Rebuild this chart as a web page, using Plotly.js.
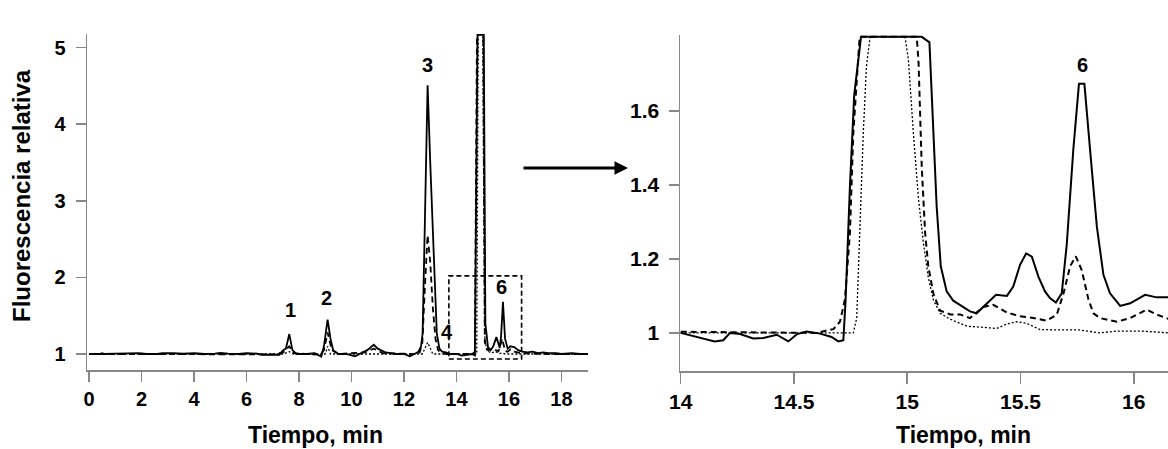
<!DOCTYPE html>
<html>
<head>
<meta charset="utf-8">
<script src="https://cdn.plot.ly/plotly-3.0.1.min.js"></script>
<style>html,body{margin:0;padding:0;background:#fff;}#chart{width:1168px;height:449px;}</style>
</head>
<body>
<div id="chart"></div>
<script>
// ---------- Overview chromatogram (left panel) ----------
var overSolidT = [0,0.4,0.5,0.6,1.0,1.2,1.5,1.9,2.2,2.6,2.8,3.2,3.6,4.0,4.4,4.8,5.0,5.3,5.7,6.0,6.4,6.6,7.0,7.25,7.4,7.5,7.63,7.75,7.9,8.3,8.6,8.85,8.95,9.09,9.2,9.3,9.5,9.8,10.13,10.3,10.6,10.85,11.0,11.3,11.7,12.0,12.22,12.4,12.55,12.65,12.71,12.8,12.9,13.0,13.1,13.2,13.25,13.35,13.45,13.6,13.75,14.0,14.2,14.4,14.6,14.7,14.8,15.04,15.1,15.2,15.3,15.4,15.52,15.65,15.7,15.77,15.85,15.95,16.05,16.2,16.35,16.5,16.7,16.9,17.1,17.3,17.5,17.8,18.0,18.4,18.7,19.0];
var overSolid  = [1.0,1.0,1.01,1.0,1.005,1.01,1.008,1.01,1.0,1.0,1.01,1.01,1.005,1.01,1.0,1.005,1.015,1.005,1.0,1.01,1.005,0.99,0.985,0.99,1.05,1.07,1.26,1.05,1.0,1.0,1.01,0.965,1.1,1.45,1.2,1.05,1.0,1.0,0.97,1.0,1.05,1.12,1.07,1.02,1.0,1.0,0.97,1.0,1.03,1.1,1.27,2.8,4.51,3.5,2.6,1.6,1.27,1.07,1.03,1.02,1.0,1.0,0.98,0.99,1.0,0.98,5.17,5.17,1.4,1.09,1.05,1.1,1.22,1.08,1.24,1.68,1.2,1.07,1.1,1.09,1.05,1.03,1.02,1.03,1.01,1.02,1.01,1.01,1.0,1.01,1.0,1.0];

var overDashT = [0,6.5,7.0,7.4,7.63,7.8,8.8,8.95,9.09,9.25,9.5,10.5,10.85,11.2,12.5,12.6,12.7,12.8,12.9,13.0,13.1,13.2,13.3,13.4,13.6,14.6,14.7,14.78,15.02,15.08,15.2,15.38,15.6,15.74,15.85,15.95,16.06,16.2,16.5,17.5,19.0];
var overDash  = [1.0,1.0,0.995,1.02,1.1,1.01,0.99,1.05,1.28,1.05,1.0,1.02,1.07,1.01,1.0,1.02,1.15,1.9,2.55,2.2,1.6,1.2,1.05,1.02,1.0,1.0,1.03,5.17,5.17,1.15,1.05,1.07,1.035,1.2,1.04,1.03,1.06,1.03,1.01,1.0,1.0];

var overDotT = [0,7.4,7.63,7.8,9.0,9.09,9.2,12.7,12.9,13.1,14.77,14.83,15.0,15.07,15.15,15.3,15.5,15.6,16.0,19.0];
var overDot  = [1.0,1.0,1.03,1.0,1.0,1.1,1.0,1.0,1.15,1.0,1.0,5.17,5.17,1.25,1.05,1.015,1.03,1.01,1.0,1.0];

// ---------- Zoomed region 14-16.2 min (right panel) ----------
var zoomSolidT = [14.0,14.063,14.15,14.188,14.218,14.262,14.32,14.365,14.424,14.475,14.512,14.556,14.615,14.666,14.696,14.718,14.728,14.747,14.766,14.796,15.064,15.098,15.115,15.13,15.148,15.174,15.203,15.233,15.277,15.306,15.35,15.392,15.44,15.468,15.498,15.525,15.55,15.579,15.608,15.63,15.656,15.682,15.704,15.733,15.758,15.782,15.807,15.837,15.866,15.895,15.94,15.984,16.05,16.1,16.16];
var zoomSolid  = [1.0,0.99,0.977,0.98,1.0,0.997,0.985,0.986,0.995,0.977,0.996,1.004,0.998,0.989,0.977,0.98,1.089,1.395,1.643,1.8,1.8,1.785,1.54,1.341,1.18,1.112,1.087,1.076,1.058,1.053,1.08,1.103,1.1,1.125,1.184,1.215,1.206,1.152,1.112,1.094,1.082,1.107,1.238,1.495,1.673,1.673,1.495,1.287,1.157,1.107,1.073,1.08,1.103,1.096,1.096];

var zoomDashT = [14.0,14.6,14.64,14.674,14.703,14.725,14.747,14.762,14.777,14.79,15.042,15.05,15.064,15.079,15.093,15.115,15.145,15.19,15.233,15.277,15.336,15.38,15.44,15.498,15.557,15.616,15.66,15.69,15.719,15.744,15.77,15.8,15.822,15.851,15.925,15.984,16.057,16.1,16.16];
var zoomDash  = [1.003,1.0,1.006,1.01,1.03,1.09,1.27,1.54,1.68,1.8,1.8,1.73,1.45,1.27,1.18,1.107,1.06,1.05,1.05,1.04,1.07,1.076,1.055,1.045,1.04,1.033,1.049,1.107,1.18,1.207,1.17,1.09,1.053,1.04,1.03,1.04,1.063,1.05,1.036];

var zoomDotT = [14.0,14.762,14.777,14.79,14.806,14.82,14.836,14.99,15.005,15.027,15.05,15.07,15.093,15.115,15.145,15.19,15.263,15.336,15.395,15.44,15.483,15.527,15.586,15.675,15.76,15.85,15.925,16.03,16.16];
var zoomDot  = [1.0,1.0,1.04,1.27,1.54,1.72,1.8,1.8,1.74,1.54,1.36,1.25,1.15,1.09,1.053,1.037,1.018,1.015,1.012,1.024,1.03,1.026,1.009,1.008,1.008,1.0,1.005,1.005,1.0];

// ---------- Peak labels ----------
var peakLabels = ['1','2','3','4','5','6'];
var peakX = [7.66,9.03,12.91,13.64,14.97,15.70];
var peakY = [1.574,1.731,4.773,1.287,5.334,1.875];
var zoomPeakLabels = ['6'];
var zoomPeakX = [15.772];
var zoomPeakY = [1.724];

// ---------- Ticks ----------
var leftXTicks = [0,2,4,6,8,10,12,14,16,18];
var leftYTicks = [1,2,3,4,5];
var rightXTicks = [14,14.5,15,15.5,16];
var rightXText = ['14','14.5','15','15.5','16'];
var rightYTicks = [1,1.2,1.4,1.6];
var rightYText = ['1','1.2','1.4','1.6'];

// zoom box (region enlarged)
var boxX = [13.71,16.48];
var boxY = [0.935,2.02];

var W = 1168, H = 449;
function px(x){return x/W;}
function py(y){return (H-y)/H;}

var black = '#000000';
var axisGray = '#888888';
var fnt = 'Liberation Sans, Arial, sans-serif';

function tr(x,y,xa,ya,dash,w){
  return {x:x,y:y,xaxis:xa,yaxis:ya,type:'scatter',mode:'lines',
    line:{color:black,width:w,dash:dash},hoverinfo:'skip',showlegend:false};
}

var data = [
  tr(overDotT,overDot,'x','y','2px,2px',1.3),
  tr(overDashT,overDash,'x','y','6px,4px',1.8),
  tr(overSolidT,overSolid,'x','y','solid',1.8),
  tr(zoomDotT,zoomDot,'x2','y2','2px,2px',1.3),
  tr(zoomDashT,zoomDash,'x2','y2','6px,4px',2),
  tr(zoomSolidT,zoomSolid,'x2','y2','solid',2)
];

function axisBase(){
  return {showgrid:false,zeroline:false,showline:true,linecolor:axisGray,linewidth:1.5,
    ticks:'outside',tickcolor:axisGray,tickwidth:1.5,ticklen:10,fixedrange:true};
}

var xa = Object.assign(axisBase(),{domain:[px(87),px(588)],range:[-0.076,19.01],anchor:'y',
  tickvals:leftXTicks,tickfont:{family:fnt,size:20,weight:'bold',color:black}});
var ya = Object.assign(axisBase(),{domain:[py(370),py(34)],range:[0.791,5.178],anchor:'x',ticklabelstandoff:6,
  tickvals:leftYTicks,tickfont:{family:fnt,size:20,weight:'bold',color:black}});
var xa2 = Object.assign(axisBase(),{domain:[px(680),1],range:[13.997,16.151],anchor:'y2',ticklen:11,
  tickvals:rightXTicks,ticktext:rightXText,tickfont:{family:fnt,size:21,weight:'bold',color:black}});
var ya2 = Object.assign(axisBase(),{domain:[py(371),py(35)],range:[0.897,1.805],anchor:'x2',ticklabelstandoff:5,
  tickvals:rightYTicks,ticktext:rightYText,tickfont:{family:fnt,size:21,weight:'bold',color:black}});

var annotations = [];
var labFont = {family:fnt,size:20,weight:'bold',color:black};
for (var i=0;i<peakLabels.length;i++){
  annotations.push({xref:'x',yref:'y',x:peakX[i],y:peakY[i],text:peakLabels[i],showarrow:false,
    xanchor:'center',yanchor:'middle',font:labFont});
}
for (var j=0;j<zoomPeakLabels.length;j++){
  annotations.push({xref:'x2',yref:'y2',x:zoomPeakX[j],y:zoomPeakY[j],text:zoomPeakLabels[j],showarrow:false,
    xanchor:'center',yanchor:'middle',font:labFont});
}
var titleFont = {family:fnt,size:23,weight:'bold',color:black};
annotations.push({xref:'paper',yref:'paper',x:px(315),y:0,text:'Tiempo, min',showarrow:false,
  xanchor:'center',yanchor:'bottom',borderpad:0,font:titleFont});
annotations.push({xref:'paper',yref:'paper',x:px(963),y:0,text:'Tiempo, min',showarrow:false,
  xanchor:'center',yanchor:'bottom',borderpad:0,font:titleFont});
annotations.push({xref:'paper',yref:'paper',x:px(21),y:py(196),text:'Fluorescencia relativa',showarrow:false,
  textangle:-90,xanchor:'center',yanchor:'middle',font:{family:fnt,size:24,weight:'bold',color:black}});
// arrow from overview box to zoom panel
annotations.push({xref:'paper',yref:'paper',x:px(628),y:py(168),ax:-106,ay:0,text:'',showarrow:true,
  arrowhead:2,arrowsize:0.9,arrowwidth:3,arrowcolor:black,standoff:0});

var layout = {
  width:W,height:H,margin:{l:0,r:0,t:0,b:0},
  paper_bgcolor:'#ffffff',plot_bgcolor:'rgba(0,0,0,0)',
  showlegend:false,
  xaxis:xa,yaxis:ya,xaxis2:xa2,yaxis2:ya2,
  annotations:annotations,
  shapes:[{type:'rect',xref:'x',yref:'y',x0:boxX[0],x1:boxX[1],y0:boxY[0],y1:boxY[1],
    line:{color:black,width:1.6,dash:'5px,3px'},fillcolor:'rgba(0,0,0,0)',layer:'above'}]
};

Plotly.newPlot('chart',data,layout,{displayModeBar:false,staticPlot:true});
</script>
</body>
</html>
